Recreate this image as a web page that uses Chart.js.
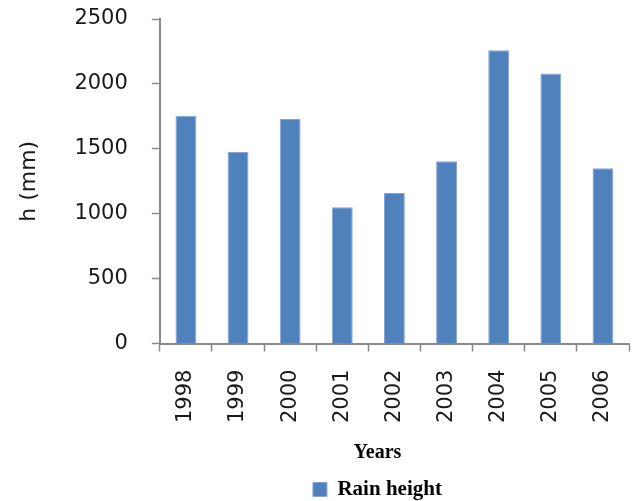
<!DOCTYPE html>
<html>
<head>
<meta charset="utf-8">
<script src="https://cdn.jsdelivr.net/npm/chart.js@4/dist/chart.umd.min.js"></script>
<style>
    body { margin: 0; background: #fff; }
    #contenedor { width: 637px; height: 501px; }
</style>
</head>
<body>
<div id="contenedor"><canvas id="barChart" width="637" height="501"></canvas></div>
<script>
// Datos de lluvia anual
const years = ['1998', '1999', '2000', '2001', '2002', '2003', '2004', '2005', '2006'];
const rainHeight = [1755, 1475, 1730, 1050, 1160, 1405, 2260, 2080, 1350];
const yTicks = [0, 500, 1000, 1500, 2000, 2500];

const ejeColor = '#8a8a8a';
const textoColor = '#1a1a1a';

// Corre la leyenda y el título "Years" un poco a la izquierda del centro del área
const desplazarCajas = {
    id: 'desplazarCajas',
    afterLayout(chart) {
        const dx = -17;
        [chart.legend, chart.titleBlock].forEach(caja => {
            if (!caja) return;
            caja.left += dx;
            caja.right += dx;
        });
    }
};

// Configuración del gráfico de barras
const barChartConfig = {
    type: 'bar',
    data: {
        labels: years,
        datasets: [{
            label: 'Rain height',
            data: rainHeight,
            backgroundColor: '#4F81BD',
            borderColor: '#86a6d4',
            borderWidth: 1,
            categoryPercentage: 0.4,
            barPercentage: 1
        }]
    },
    options: {
        responsive: false,
        animation: false,
        layout: {
            padding: { top: 19, right: 8, left: 0, bottom: -9 }
        },
        plugins: {
            tooltip: { enabled: false },
            title: {
                display: true,
                text: 'Years',
                position: 'bottom',
                fullSize: false,
                weight: 500,
                color: '#000',
                padding: { top: 0, bottom: 13 },
                font: { family: '"Liberation Serif", serif', size: 20, weight: 'bold' }
            },
            legend: {
                position: 'bottom',
                fullSize: false,
                labels: {
                    boxWidth: 14,
                    boxHeight: 14,
                    color: '#000',
                    padding: 1,
                    font: { family: '"Liberation Serif", serif', size: 21, weight: 'bold' }
                }
            }
        },
        scales: {
            x: {
                // sin margen extra por las etiquetas giradas
                afterFit: (scale) => {
                    scale.paddingLeft = 0;
                    scale.paddingRight = 0;
                },
                grid: {
                    drawOnChartArea: false,
                    drawTicks: true,
                    tickLength: 8,
                    tickColor: ejeColor,
                    tickWidth: 1.5
                },
                border: { color: ejeColor, width: 2 },
                ticks: {
                    color: textoColor,
                    padding: 18,
                    minRotation: 90,
                    maxRotation: 90,
                    font: { family: '"DejaVu Sans"', size: 21 }
                }
            },
            y: {
                min: 0,
                max: 2500,
                afterBuildTicks: (scale) => {
                    scale.ticks = yTicks.map(v => ({ value: v }));
                },
                // el padding de las etiquetas no debe empujar el área hacia abajo
                afterFit: (scale) => {
                    scale.paddingTop = 12;
                    scale.paddingBottom = 12;
                },
                grid: {
                    drawOnChartArea: false,
                    drawTicks: true,
                    tickLength: 8,
                    tickColor: ejeColor,
                    tickWidth: 1.5
                },
                border: { color: ejeColor, width: 2 },
                ticks: {
                    color: textoColor,
                    padding: 24,
                    callback: (value) => String(value),
                    font: { family: '"DejaVu Sans"', size: 21 }
                },
                title: {
                    display: true,
                    text: 'h (mm)',
                    color: textoColor,
                    padding: { top: 16, bottom: 8 },
                    font: { family: '"DejaVu Sans"', size: 22 }
                }
            }
        }
    },
    plugins: [desplazarCajas]
};

// Crear el gráfico
const barChart = new Chart(
    document.getElementById('barChart'),
    barChartConfig
);
</script>
</body>
</html>
